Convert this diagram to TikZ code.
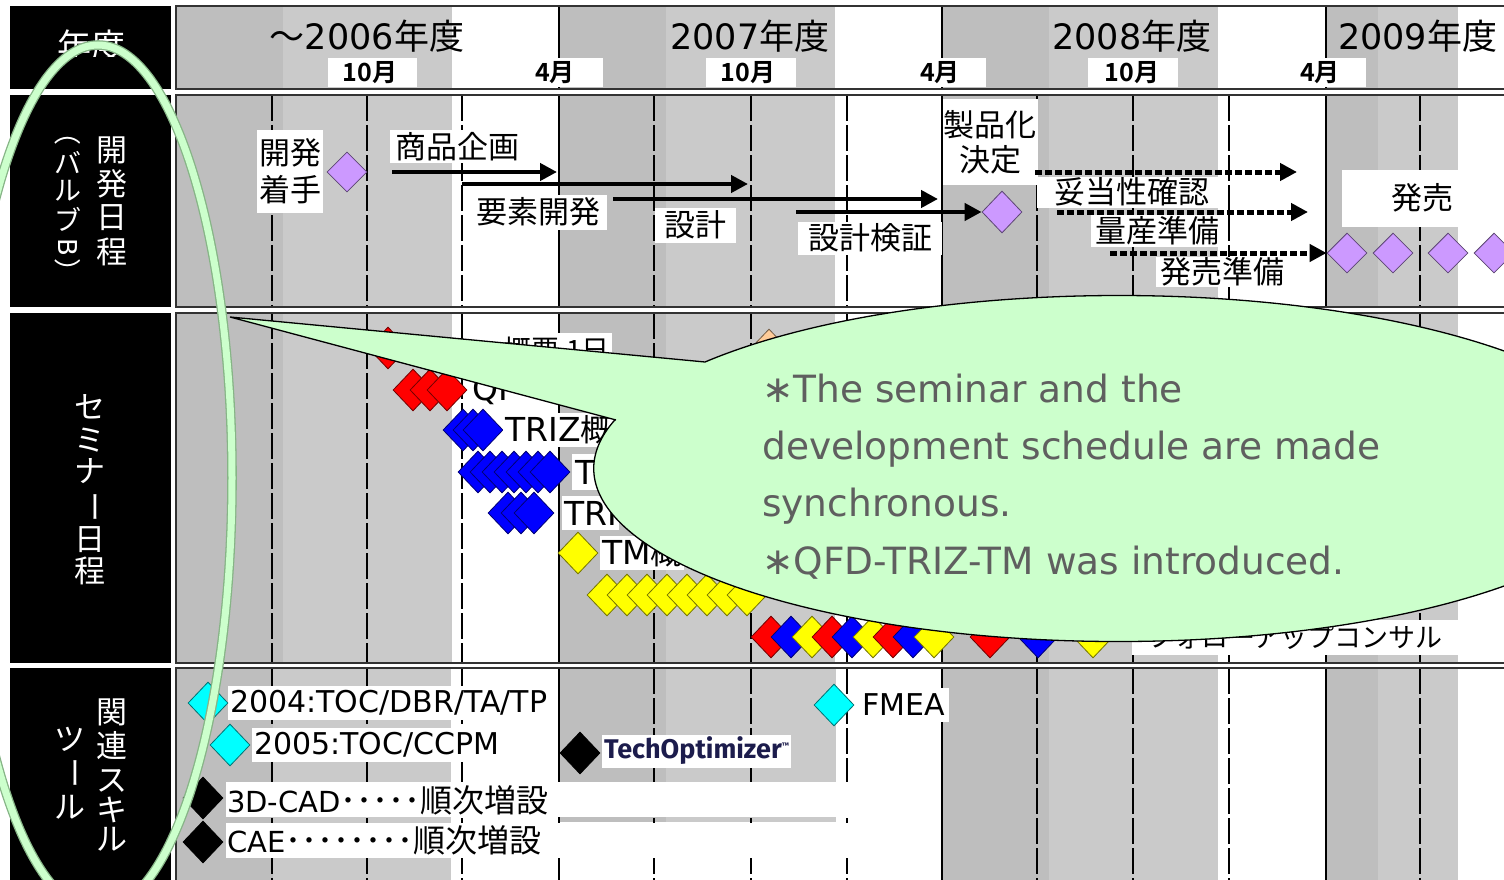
\documentclass[tikz,border=0pt]{standalone}
\usepackage{fontspec}
\setmainfont{Noto Sans CJK JP}[BoldFont={Noto Sans CJK JP Bold}]
\newfontfamily\latinfont{DejaVu Sans}
\newfontfamily\logofont{Fira Sans}
\usepackage{xcolor}
\definecolor{bandA}{HTML}{BEBEBE}
\definecolor{bandB}{HTML}{CACACA}
\definecolor{gemPurple}{HTML}{CC99FF}
\definecolor{gemRed}{HTML}{FF0000}
\definecolor{gemBlue}{HTML}{0000FF}
\definecolor{gemYellow}{HTML}{FFFF00}
\definecolor{gemCyan}{HTML}{00FFFF}
\definecolor{gemPeach}{HTML}{FFCC99}
\definecolor{noteFill}{HTML}{CCFFCC}
\definecolor{noteText}{HTML}{5F5F5F}
\definecolor{ringEdge}{HTML}{86B486}
\definecolor{logoNavy}{HTML}{1C1C4C}
\usepackage{tikz}
\usetikzlibrary{arrows.meta, shapes.geometric}

\tikzset{
  gem/.style={diamond, fill=#1, draw=#1!45!black, line width=0.8pt,
    minimum width=40pt, minimum height=42pt, inner sep=0pt},
  celltxt/.style={text=white, inner sep=0pt, font=\fontsize{31}{31}\selectfont},
  lbl/.style={fill=white, inner sep=0pt, align=center, font=\fontsize{31}{35}\selectfont},
  txtbox/.style={fill=white, inner xsep=2pt, inner ysep=0pt, minimum height=34pt, anchor=west},
  yearlbl/.style={inner sep=0pt, font=\fontsize{35}{35}\selectfont},
  monthlbl/.style={inner sep=0pt, font=\bfseries\fontsize{25}{25}\selectfont},
  flow/.style={line width=4.5pt, -{Triangle[length=17pt, width=17pt]}},
  prep/.style={flow, line width=5pt, dash pattern=on 7pt off 3pt},
  qline/.style={line width=1.4pt, dash pattern=on 26pt off 4pt},
  fyline/.style={line width=1.6pt},
  rowframe/.style={draw=black!80, line width=1.8pt},
  note/.style={text=noteText, inner sep=0pt, anchor=base west,
    font=\latinfont\fontsize{37.5}{40}\selectfont},
  ring/.style={draw=ringEdge, line width=1.3pt, double=noteFill, double distance=7pt},
}

\begin{document}
\begin{tikzpicture}[x=1pt, y=-1pt]
  \useasboundingbox (0,0) rectangle (1504,880);
  \clip (0,0) rectangle (1504,880);

  % quarter bands
  \foreach \ya/\yb in {6/89, 95/307, 313/663} {
    \foreach \s in {176, 559, 942} {
      \fill[bandA] (\s,\ya) rectangle (\s+107,\yb);
      \fill[bandB] (\s+107,\ya) rectangle (\s+276,\yb);
    }
    \fill[bandA] (1326,\ya) rectangle (1378,\yb);
    \fill[bandB] (1378,\ya) rectangle (1458,\yb);
  }
  \fill[bandA] (176,668) rectangle (273,890);
  \fill[bandB] (273,668) rectangle (451,890);
  \fill[bandA] (559,668) rectangle (666,822);
  \fill[bandB] (666,668) rectangle (836,822);
  \fill[bandA] (942,668) rectangle (1049,890);
  \fill[bandB] (1049,668) rectangle (1218,890);
  \fill[bandA] (1326,668) rectangle (1378,890);
  \fill[bandB] (1378,668) rectangle (1458,890);

  % grid lines
  \foreach \ya/\yb in {95/307, 313/663, 668/890} {
    \foreach \x in {272,367,462,654,751,847,1037,1133,1229,1420}
      \draw[qline] (\x,\ya) -- (\x,\yb);
    \foreach \x in {559,942,1326}
      \draw[fyline] (\x,\ya) -- (\x,\yb);
  }
  \foreach \x in {559,942,1326}
    \draw[fyline] (\x,6) -- (\x,89);

  % row frames and title cells
  \foreach \ya/\yb in {6/89, 95/307, 313/663, 668/890} {
    \fill[black] (10,\ya) rectangle (171,\yb);
    \draw[rowframe] (176,\ya) rectangle (1520,\yb);
  }

  % header
  \begin{scope}
    \clip (10,6) rectangle (171,57);
    \node[celltxt, font=\fontsize{34}{34}\selectfont] (nendo) at (91,46) {年度};
  \end{scope}
  \node[yearlbl] (fy06) at (367,36) {～{\latinfont 2006}年度};
  \node[yearlbl] (fy07) at (750,36) {{\latinfont 2007}年度};
  \node[yearlbl] (fy08) at (1132,36) {{\latinfont 2008}年度};
  \node[yearlbl, anchor=west] (fy09) at (1338,36) {{\latinfont 2009}年度};
  \foreach \xa/\xb in {328/417, 538/603, 706/796, 912/986, 1088/1178, 1290/1366}
    \fill[white] (\xa,58) rectangle (\xb,87);
  \node[monthlbl] (oct06) at (370,73) {10月};
  \node[monthlbl] (apr07) at (555,73) {4月};
  \node[monthlbl] (oct07) at (748,73) {10月};
  \node[monthlbl] (apr08) at (940,73) {4月};
  \node[monthlbl] (oct08) at (1132,73) {10月};
  \node[monthlbl] (apr09) at (1320,73) {4月};

  % development schedule (valve B)
  \foreach \ch/\yy [count=\i] in {開/150, 発/184, 日/218, 程/252}
    \node[celltxt] (dev\i) at (112,\yy) {\ch};
  \node[celltxt, rotate=-90, font=\fontsize{27}{27}\selectfont] (valve1) at (68,132) {（};
  \foreach \ch/\yy [count=\i from 2] in {バ/163, ル/191, ブ/219}
    \node[celltxt, font=\fontsize{27}{27}\selectfont] (valve\i) at (68,\yy) {\ch};
  \node[celltxt, rotate=-90, font=\latinfont\fontsize{26}{26}\selectfont] (valve5) at (68,247) {B};
  \node[celltxt, rotate=-90, font=\fontsize{27}{27}\selectfont] (valve6) at (68,272) {）};

  \node[lbl, minimum width=66, minimum height=83, font=\fontsize{31}{37}\selectfont] (kickoff) at (290,171.5) {開発\\着手};
  \node[lbl, minimum width=134, minimum height=33] (planlbl) at (457,146.5) {商品企画};
  \node[lbl, minimum width=137, minimum height=35] (elemlbl) at (538,212) {要素開発};
  \node[lbl, minimum width=81, minimum height=35] (designlbl) at (695,225) {設計};
  \node[lbl, minimum width=144, minimum height=33] (verifylbl) at (870,238) {設計検証};
  \node[lbl, minimum width=95, minimum height=85] (decidelbl) at (990,142) {製品化\\決定};
  \node[lbl, minimum width=190, minimum height=31] (validlbl) at (1132,192) {妥当性確認};
  \node[lbl, minimum width=132, minimum height=32] (masslbl) at (1157,231) {量産準備};
  \node[lbl, minimum width=132, minimum height=30] (launchlbl) at (1222,272) {発売準備};
  \node[lbl, minimum width=161, minimum height=57] (salelbl) at (1422,198) {発売};

  \node[gem=gemPurple, minimum height=40pt] (start) at (347,172) {};
  \node[gem=gemPurple] (decide) at (1002,212) {};
  \foreach \x [count=\i] in {1347,1393,1448,1494}
    \node[gem=gemPurple, minimum height=40pt] (sale\i) at (\x,253) {};

  \coordinate (plan0) at (392,172);   \coordinate (plan1) at (557,172);
  \coordinate (elem0) at (462,184);   \coordinate (elem1) at (748,184);
  \coordinate (design0) at (613,199); \coordinate (design1) at (938,199);
  \coordinate (verify0) at (796,212);
  \coordinate (valid0) at (1035,172); \coordinate (valid1) at (1297,172);
  \coordinate (mass0) at (1057,212);  \coordinate (mass1) at (1308,212);
  \coordinate (launch0) at (1110,253);
  \draw[flow] (plan0) -- (plan1);
  \draw[flow] (elem0) -- (elem1);
  \draw[flow] (design0) -- (design1);
  \draw[flow] (verify0) -- (decide.west);
  \draw[prep] (valid0) -- (valid1);
  \draw[prep] (mass0) -- (mass1);
  \draw[prep] (launch0) -- (sale1.west);

  % seminar schedule
  \foreach \ch/\yy [count=\i] in {セ/407, ミ/440, ナ/471}
    \node[celltxt] (sem\i) at (90,\yy) {\ch};
  \node[celltxt, rotate=-90] (sem4) at (90,507) {ー};
  \node[celltxt] (sem5) at (90,540) {日};
  \node[celltxt] (sem6) at (90,571) {程};

  \node[gem=gemRed] (qfd0) at (388,348) {};
  \node[gem=gemPeach] (peach) at (769,350) {};
  \node[txtbox, anchor=east, font=\fontsize{28}{28}\selectfont] (outline) at (612,350) {概要 1日};
  \foreach \x [count=\i] in {413,430,447}
    \node[gem=gemRed] (qfd\i) at (\x,390) {};
  \node[txtbox, font=\latinfont\fontsize{33}{33}\selectfont] (qfdtxt) at (470,390) {QF};
  \foreach \x [count=\i] in {463,473,483}
    \node[gem=gemBlue] (triza\i) at (\x,430) {};
  \node[txtbox, font=\fontsize{31}{31}\selectfont] (trizatxt) at (503,430) {{\latinfont\fontsize{33}{33}\selectfont TRIZ}概};
  \foreach \x [count=\i] in {478,490,...,550}
    \node[gem=gemBlue] (trizb\i) at (\x,472) {};
  \fill[white] (572,454) rectangle (610,490);
  \node[anchor=west, inner sep=0pt, font=\latinfont\fontsize{33}{33}\selectfont] (trizbtxt) at (575,472) {T};
  \foreach \x [count=\i] in {508,521,534}
    \node[gem=gemBlue] (trizc\i) at (\x,513) {};
  \node[txtbox, font=\latinfont\fontsize{33}{33}\selectfont] (trizctxt) at (562,513) {TRI};
  \node[gem=gemYellow] (tma) at (578,553) {};
  \node[txtbox, font=\fontsize{31}{31}\selectfont] (tmatxt) at (600,553) {{\latinfont\fontsize{33}{33}\selectfont TM}概};
  \foreach \x [count=\i] in {607,627,...,747}
    \node[gem=gemYellow] (tmb\i) at (\x,595) {};
  \foreach \x/\c [count=\i] in {771/gemRed, 791/gemBlue, 812/gemYellow, 832/gemRed, 852/gemBlue,
      873/gemYellow, 893/gemRed, 913/gemBlue, 934/gemYellow, 990/gemRed, 1038/gemBlue, 1093/gemYellow}
    \node[gem=\c] (mix\i) at (\x,637) {};
  \node[fill=white, inner sep=0pt, minimum width=327, minimum height=35, font=\fontsize{27}{27}\selectfont] (follow) at (1295,637) {フォローアップコンサル};

  % related skills and tools
  \foreach \ch/\yy [count=\i] in {関/712, 連/746, ス/781, キ/810, ル/839}
    \node[celltxt] (skill\i) at (112,\yy) {\ch};
  \node[celltxt] (tool1) at (70,739) {ツ};
  \node[celltxt, rotate=-90] (tool2) at (70,773) {ー};
  \node[celltxt] (tool3) at (70,807) {ル};

  \node[txtbox, font=\latinfont\fontsize{30}{30}\selectfont] (toc04txt) at (228,703) {2004:TOC/DBR/TA/TP};
  \node[gem=gemCyan] (toc04) at (208,703) {};
  \node[txtbox, font=\latinfont\fontsize{30}{30}\selectfont] (toc05txt) at (252,745) {2005:TOC/CCPM};
  \node[gem=gemCyan] (toc05) at (230,745) {};
  \node[gem=gemCyan] (fmea) at (834,705) {};
  \node[txtbox, inner xsep=4pt, font=\latinfont\fontsize{30}{30}\selectfont] (fmeatxt) at (858,705) {FMEA};
  \node[gem=black] (techgem) at (580,753) {};
  \node[txtbox, minimum height=33pt, text=logoNavy, font=\logofont\bfseries\fontsize{27}{27}\selectfont] (techtxt) at (602,751)
    {TechOptimizer\raisebox{10pt}{\fontsize{8}{8}\selectfont ™}};
  \fill[white] (226,782) rectangle (850,817);
  \fill[white] (226,823) rectangle (850,858);
  \node[gem=black] (cadgem) at (203,798) {};
  \node[gem=black] (caegem) at (203,842) {};
  \node[anchor=west, inner sep=0pt, font=\fontsize{32}{32}\selectfont] (cadtxt) at (227,800)
    {{\latinfont\fontsize{29}{29}\selectfont 3D-CAD}･････順次増設};
  \node[anchor=west, inner sep=0pt, font=\fontsize{32}{32}\selectfont] (caetxt) at (227,840)
    {{\latinfont\fontsize{29}{29}\selectfont CAE}････････順次増設};

  % callout
  \draw[fill=noteFill, draw=black, line width=1.3pt] (616,420) -- (230,317) -- (705,362)
    arc[start angle=218, end angle=556.4, x radius=525, y radius=173] -- cycle;
  \node[note] (note1) at (762,402) {∗The seminar and the};
  \node[note] (note2) at (762,459) {development schedule are made};
  \node[note] (note3) at (762,516) {synchronous.};
  \node[note] (note4) at (762,574) {∗QFD-TRIZ-TM was introduced.};

  % highlight ring
  \draw[ring] (98,478) ellipse [x radius=134, y radius=433];
\end{tikzpicture}
\end{document}
